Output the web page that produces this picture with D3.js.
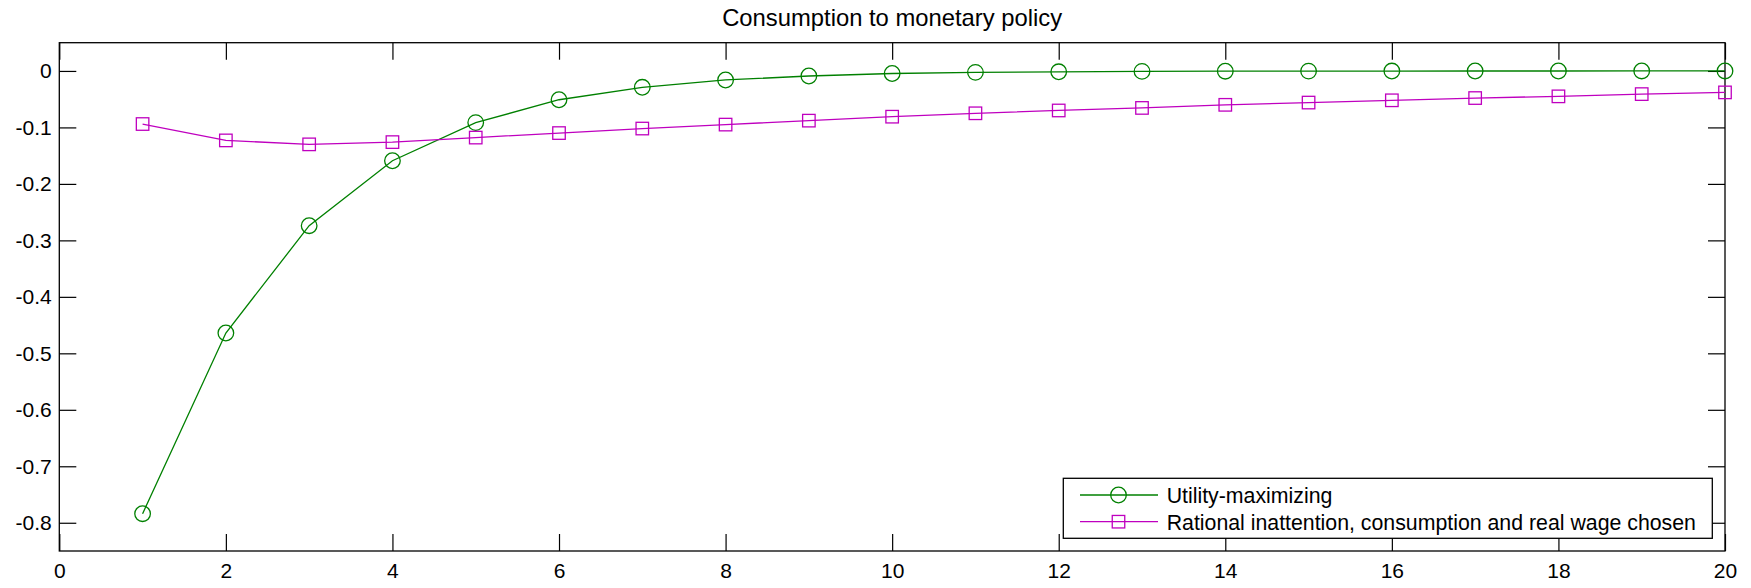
<!DOCTYPE html>
<html>
<head>
<meta charset="utf-8">
<script src="https://cdn.jsdelivr.net/npm/d3@7"></script>
<style>
  html, body { margin: 0; padding: 0; background: #fff; }
  svg { display: block; font-family: "Liberation Sans", Arial, sans-serif; }
</style>
</head>
<body>
<svg id="chart" width="1751" height="588"></svg>
<script>
const periods = d3.range(1, 21);
const utilityMax = [-0.784, -0.464, -0.274, -0.159, -0.0915, -0.051, -0.029, -0.016, -0.009, -0.0045,
                    -0.0025, -0.0015, -0.0008, -0.0005, -0.0003, -0.0002, -0.0001, -0.0001, 0, 0];
const rationalInatt = [-0.094, -0.123, -0.130, -0.126, -0.118, -0.110, -0.102, -0.095, -0.088, -0.081,
                       -0.075, -0.070, -0.0655, -0.060, -0.056, -0.052, -0.048, -0.045, -0.041, -0.038];
const xTicks = [0, 2, 4, 6, 8, 10, 12, 14, 16, 18, 20];
const yTicks = [0, -0.1, -0.2, -0.3, -0.4, -0.5, -0.6, -0.7, -0.8];
const seriesNames = ["Utility-maximizing", "Rational inattention, consumption and real wage chosen"];
const title = "Consumption to monetary policy";

const svg = d3.select("#chart");
const L = 59.3, R = 1725, T = 42.7, B = 551;
const x = d3.scaleLinear().domain([0, 20]).range([L, R]);
const y = d3.scaleLinear().domain([-0.85, 0.05]).range([B, T]);
const tickLen = 17;
const fsTitle = 23.8, fsTick = 21, fsLegend = 21.3;
const green = "#008000", magenta = "#bf00bf";
const FF = "Liberation Sans, Arial, sans-serif";

// title
svg.append("text").attr("x", (L + R) / 2).attr("y", 26).attr("text-anchor", "middle")
  .attr("font-size", fsTitle).attr("font-family", FF).attr("fill", "#000").text(title);

const fmt = d => d === 0 ? "0" : String(d);
const gx = svg.append("g").attr("transform", `translate(0,${B})`)
  .call(d3.axisBottom(x).tickValues(xTicks).tickSizeInner(-tickLen).tickSizeOuter(0).tickFormat(fmt));
gx.selectAll(".tick text").attr("y", 27).attr("dy", 0);
svg.append("g").attr("transform", `translate(${L},0)`)
  .call(d3.axisLeft(y).tickValues(yTicks).tickSizeInner(-tickLen).tickSizeOuter(0).tickPadding(7.5).tickFormat(fmt));
svg.append("g").attr("transform", `translate(0,${T})`)
  .call(d3.axisTop(x).tickValues(xTicks).tickSizeInner(-tickLen).tickSizeOuter(0).tickFormat(""));
svg.append("g").attr("transform", `translate(${R},0)`)
  .call(d3.axisRight(y).tickValues(yTicks).tickSizeInner(-tickLen).tickSizeOuter(0).tickFormat(""));
svg.selectAll(".domain").remove();
svg.selectAll(".tick line").attr("stroke", "#000").attr("stroke-width", 1.2);
svg.selectAll(".tick text").attr("font-size", fsTick).attr("fill", "#000").attr("font-family", FF);

// frame
svg.append("rect").attr("x", L).attr("y", T).attr("width", R - L).attr("height", B - T)
  .attr("fill", "none").attr("stroke", "#000").attr("stroke-width", 1.3);

const line = d3.line().x((d, i) => x(periods[i])).y(d => y(d));

// series 1
svg.append("path").datum(utilityMax).attr("d", line).attr("fill", "none")
  .attr("stroke", green).attr("stroke-width", 1.3);
svg.append("g").selectAll("circle").data(utilityMax).join("circle")
  .attr("cx", (d, i) => x(periods[i])).attr("cy", d => y(d)).attr("r", 7.8)
  .attr("fill", "none").attr("stroke", green).attr("stroke-width", 1.3);

// series 2
svg.append("path").datum(rationalInatt).attr("d", line).attr("fill", "none")
  .attr("stroke", magenta).attr("stroke-width", 1.3);
const sq = 12.5;
svg.append("g").selectAll("rect").data(rationalInatt).join("rect")
  .attr("x", (d, i) => x(periods[i]) - sq / 2).attr("y", d => y(d) - sq / 2)
  .attr("width", sq).attr("height", sq)
  .attr("fill", "none").attr("stroke", magenta).attr("stroke-width", 1.3);

// legend
const lg = svg.append("g");
lg.append("rect").attr("x", 1063.3).attr("y", 478.3).attr("width", 1712.3 - 1063.3).attr("height", 60)
  .attr("fill", "#fff").attr("stroke", "#000").attr("stroke-width", 1.3);
const rows = [{name: seriesNames[0], c: green, m: "circle", yy: 495, base: 503.3},
              {name: seriesNames[1], c: magenta, m: "square", yy: 521.7, base: 530}];
rows.forEach(r => {
  lg.append("line").attr("x1", 1080).attr("x2", 1158).attr("y1", r.yy).attr("y2", r.yy)
    .attr("stroke", r.c).attr("stroke-width", 1.3);
  if (r.m === "circle") {
    lg.append("circle").attr("cx", 1118.5).attr("cy", r.yy).attr("r", 7.8)
      .attr("fill", "none").attr("stroke", r.c).attr("stroke-width", 1.3);
  } else {
    lg.append("rect").attr("x", 1118.5 - sq / 2).attr("y", r.yy - sq / 2).attr("width", sq).attr("height", sq)
      .attr("fill", "none").attr("stroke", r.c).attr("stroke-width", 1.3);
  }
  lg.append("text").attr("x", 1166.7).attr("y", r.base).attr("font-size", fsLegend)
    .attr("font-family", FF).attr("fill", "#000").text(r.name);
});
</script>
</body>
</html>
